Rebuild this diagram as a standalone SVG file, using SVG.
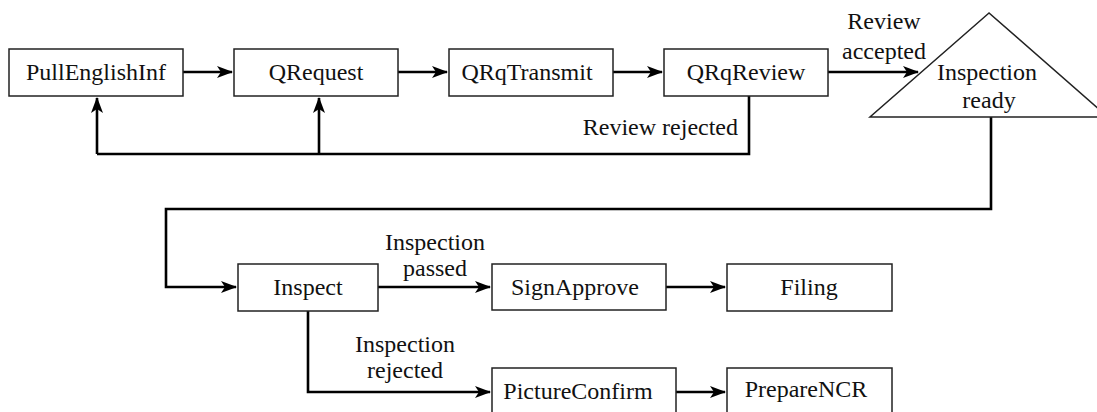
<svg xmlns="http://www.w3.org/2000/svg" width="1097" height="412" viewBox="0 0 1097 412">
<style>
.box{fill:#fff;stroke:#222;stroke-width:1.5}
.t{font-family:'Liberation Serif','Times New Roman','DejaVu Serif',serif;font-size:24px;fill:#111;text-anchor:middle}
.c{fill:none;stroke:#000;stroke-width:2.6}
.a{marker-end:url(#ah)}
</style>
<defs>
<marker id="ah" markerUnits="userSpaceOnUse" markerWidth="16" markerHeight="12" refX="15" refY="6" orient="auto">
<path d="M0,0 L16,6 L0,12 L4,6 z" fill="#000"/>
</marker>
</defs>
<rect width="1097" height="412" fill="#fff"/>
<g id="connectors">
<path class="c a" d="M183,72 H232"/>
<path class="c a" d="M398,72 H447"/>
<path class="c a" d="M613,72 H662"/>
<path class="c a" d="M828,72 H918"/>
<path class="c" d="M749,96 V154 H97"/>
<path class="c a" d="M97,154 V98"/>
<path class="c a" d="M319,154 V98"/>
<path class="c a" d="M991,117 V209 H166 V287 H236"/>
<path class="c a" d="M378,287 H490"/>
<path class="c a" d="M308,311 V392 H490"/>
<path class="c a" d="M666,287 H725"/>
<path class="c a" d="M676,392 H725"/>
<text class="t" font-family="Liberation Serif, serif" x="738" y="135" style="text-anchor:end">Review rejected</text>
<text class="t" font-family="Liberation Serif, serif" x="884" y="29">Review</text>
<text class="t" font-family="Liberation Serif, serif" x="884" y="59">accepted</text>
<text class="t" font-family="Liberation Serif, serif" x="435" y="250">Inspection</text>
<text class="t" font-family="Liberation Serif, serif" x="435" y="276">passed</text>
<text class="t" font-family="Liberation Serif, serif" x="405" y="352">Inspection</text>
<text class="t" font-family="Liberation Serif, serif" x="405" y="378">rejected</text>
</g>
<g id="PullEnglishInf"><rect class="box" x="9" y="49" width="174" height="47"/><text class="t" x="96" y="80">PullEnglishInf</text></g>
<g id="QRequest"><rect class="box" x="234" y="49" width="164" height="47"/><text class="t" x="316" y="80">QRequest</text></g>
<g id="QRqTransmit"><rect class="box" x="449" y="49" width="164" height="47"/><text class="t" x="527" y="80">QRqTransmit</text></g>
<g id="QRqReview"><rect class="box" x="664" y="49" width="164" height="47"/><text class="t" x="746" y="80">QRqReview</text></g>
<g id="InspectionReady"><polygon class="box" points="989,13 870,117 1108,117"/><text class="t" x="987" y="80">Inspection</text><text class="t" x="989" y="108">ready</text></g>
<g id="Inspect"><rect class="box" x="238" y="264" width="140" height="47"/><text class="t" x="308" y="295">Inspect</text></g>
<g id="SignApprove"><rect class="box" x="492" y="264" width="174" height="46"/><text class="t" x="575" y="295">SignApprove</text></g>
<g id="Filing"><rect class="box" x="727" y="264" width="165" height="47"/><text class="t" x="809" y="295">Filing</text></g>
<g id="PictureConfirm"><rect class="box" x="492" y="368" width="184" height="47"/><text class="t" x="578" y="399">PictureConfirm</text></g>
<g id="PrepareNCR"><rect class="box" x="727" y="368" width="165" height="47"/><text class="t" x="806" y="397">PrepareNCR</text></g>
</svg>
